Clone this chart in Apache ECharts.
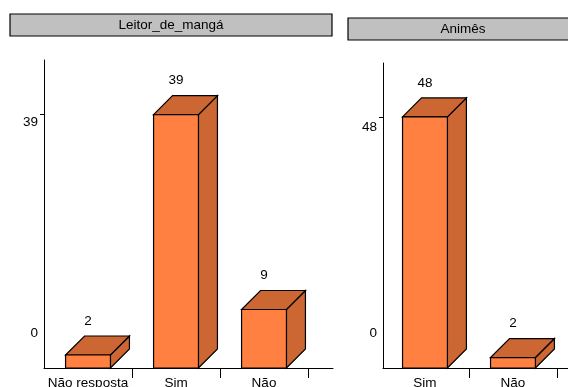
<!DOCTYPE html>
<html>
<head>
<meta charset="utf-8">
<script src="https://cdn.jsdelivr.net/npm/echarts@6/dist/echarts.min.js"></script>
<style>
html, body { margin: 0; padding: 0; background: #fff; }
#main { width: 568px; height: 387px; }
</style>
</head>
<body>
<div id="main"></div>
<script>
// data
var mangaCats = ['Não resposta', 'Sim', 'Não'];
var mangaVals = [2, 39, 9];
var mangaTicks = [0, 39];
var animeCats = ['Sim', 'Não'];
var animeVals = [48, 2];
var animeTicks = [0, 48];
var panelTitles = ['Leitor_de_mangá', 'Animês'];

var FONT = '"Liberation Sans", Arial, sans-serif';
var DEPTH = 19;

function toPoints(vals) {
    return vals.map(function (v, i) { return [i, v]; });
}

// 3D looking bar: side, top, front and the value on top
function renderBar(params, api) {
    var i = api.value(0);
    var v = api.value(1);
    var base = api.coord([i, 0]);
    var top = api.coord([i, v]);
    var w = api.size([0.51, 0])[0];
    var x0 = base[0] - w / 2, x1 = base[0] + w / 2;
    var ty = top[1], by = base[1], d = DEPTH;
    return {
        type: 'group',
        children: [
            {
                type: 'polygon',
                shape: { points: [[x1, ty], [x1 + d, ty - d], [x1 + d, by - d], [x1, by]] },
                style: { fill: '#cc6633', stroke: '#000', lineWidth: 1.2 }
            },
            {
                type: 'polygon',
                shape: { points: [[x0, ty], [x0 + d, ty - d], [x1 + d, ty - d], [x1, ty]] },
                style: { fill: '#cc6633', stroke: '#000', lineWidth: 1.2 }
            },
            {
                type: 'rect',
                shape: { x: x0, y: ty, width: w, height: by - ty },
                style: { fill: '#ff8040', stroke: '#000', lineWidth: 1.2 }
            },
            {
                type: 'text',
                x: base[0],
                y: ty - d - 15,
                style: {
                    text: String(v), fill: '#000', font: '13.5px ' + FONT,
                    align: 'center', verticalAlign: 'middle'
                }
            }
        ]
    };
}

function yAxisFor(gi, max, ticks, shift) {
    return {
        type: 'value', gridIndex: gi, min: 0, max: max,
        axisLine: { show: true, onZero: false, lineStyle: { color: '#000', width: 1 } },
        axisTick: { show: true, length: 4, customValues: [ticks[1]], lineStyle: { color: '#000' } },
        axisLabel: {
            customValues: ticks, margin: 6, color: '#000',
            fontFamily: FONT, fontSize: 13.5,
            formatter: function (v) {
                return v === 0 ? '{z|0}' : '{t|' + v + '}';
            },
            rich: {
                z: { fontFamily: FONT, fontSize: 13.5, color: '#000', padding: [0, 0, 70, 0] },
                t: { fontFamily: FONT, fontSize: 13.5, color: '#000', padding: [shift, 0, 0, 0] }
            }
        },
        splitLine: { show: false }
    };
}

function xAxisFor(gi, cats, min, max) {
    var tickVals = [], labelVals = [];
    for (var i = 0; i < cats.length; i++) {
        labelVals.push(i);
        tickVals.push(i + 0.5);
    }
    return {
        type: 'value', gridIndex: gi, min: min, max: max,
        axisLine: { show: true, onZero: false, lineStyle: { color: '#000', width: 1 } },
        axisTick: { show: true, length: 10, customValues: tickVals, lineStyle: { color: '#000' } },
        axisLabel: {
            customValues: labelVals, margin: 8, color: '#000',
            fontFamily: FONT, fontSize: 13.5,
            formatter: function (v) { return cats[Math.round(v)]; }
        },
        splitLine: { show: false }
    };
}

function titleBox(x, y, w, text) {
    return {
        type: 'group',
        children: [
            {
                type: 'rect',
                shape: { x: x, y: y, width: w, height: 22 },
                style: { fill: '#c0c0c0', stroke: '#000', lineWidth: 1.2 }
            },
            {
                type: 'text',
                x: x + w / 2, y: y + 11,
                style: {
                    text: text, fill: '#000', font: '13.5px ' + FONT,
                    align: 'center', verticalAlign: 'middle'
                }
            }
        ]
    };
}

var chart = echarts.init(document.getElementById('main'));
chart.setOption({
    animation: false,
    backgroundColor: '#fff',
    graphic: [
        titleBox(10, 14, 322, panelTitles[0]),
        titleBox(348, 18, 230, panelTitles[1])
    ],
    grid: [
        { left: 44, top: 60, width: 289, height: 308, outerBoundsMode: 'none' },
        { left: 383, top: 63, width: 187, height: 305, outerBoundsMode: 'none' }
    ],
    xAxis: [
        xAxisFor(0, mangaCats, -0.5, 2.784),
        xAxisFor(1, animeCats, -0.477, 1.648)
    ],
    yAxis: [
        yAxisFor(0, 47.4, mangaTicks, 16),
        yAxisFor(1, 58.3, animeTicks, 20)
    ],
    series: [
        {
            type: 'custom', xAxisIndex: 0, yAxisIndex: 0, clip: false,
            renderItem: renderBar, data: toPoints(mangaVals)
        },
        {
            type: 'custom', xAxisIndex: 1, yAxisIndex: 1, clip: false,
            renderItem: renderBar, data: toPoints(animeVals)
        }
    ]
});
</script>
</body>
</html>
